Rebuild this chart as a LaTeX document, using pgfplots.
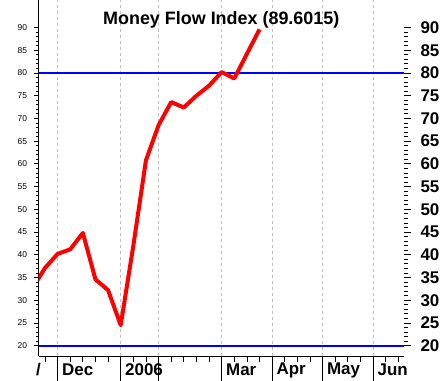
\documentclass[border=0pt]{standalone}
\usepackage{fontspec}
\setmainfont{Liberation Sans}
\usepackage{pgfplots}
\pgfplotsset{compat=1.18}
\definecolor{gridgray}{RGB}{190,190,190}
\definecolor{mfired}{RGB}{255,0,0}
\definecolor{mfiblue}{RGB}{0,0,255}
\pgfplotsset{
  base/.style={
    at={(38.5bp,25bp)}, anchor=south west,
    scale only axis, width=365.5bp, height=356bp,
    xmin=-0.515, xmax=28.45, ymin=17.73, ymax=96.06,
    axis line style={-, black, line width=0.8bp},
    tick align=outside,
    tick style={black, line width=0.8bp},
    /pgf/number format/assume math mode=true,
  }
}
\begin{document}
\begin{tikzpicture}
\useasboundingbox (0,0) rectangle (443bp,381bp);
% month ticks, gridlines and labels
\begin{axis}[base,
  hide y axis, axis x line*=bottom,
  xtick={1,6,9,14,18,22,26},
  xticklabels={Dec,2006,,Mar,Apr,May,Jun},
  major tick length=25bp,
  xmajorgrids,
  grid style={gridgray, dash pattern=on 3bp off 3bp, line width=0.8bp},
  xticklabel style={anchor=west, font=\bfseries\fontsize{17}{17}\selectfont, xshift=1bp, yshift=11bp},
]
\end{axis}
% weekly ticks
\begin{axis}[base,
  hide y axis, axis x line*=bottom,
  xtick={0,...,28}, xticklabels={},
  major tick length=6bp,
]
\end{axis}
% right axis
\begin{axis}[base,
  hide x axis, axis y line*=right,
  y axis line style={draw=none},
  ytick={20,25,...,90},
  minor y tick num=4,
  major tick length=7bp, minor tick length=3.5bp,
  yticklabel style={anchor=west, font=\bfseries\fontsize{17}{17}\selectfont, xshift=6bp},
]
\end{axis}
% left axis with data
\begin{axis}[base,
  hide x axis, axis y line*=left,
  ytick={20,25,...,90},
  minor y tick num=4,
  major tick length=4bp, minor tick length=2bp,
  yticklabel style={anchor=east, font=\fontsize{8.5}{8.5}\selectfont, xshift=-4bp},
  title={\bfseries Money Flow Index (89.6015)},
  title style={at={(0.5,1)}, anchor=north, yshift=-14bp, font=\fontsize{18}{18}\selectfont},
  clip=true,
]
\addplot[mfiblue, line width=2bp] coordinates {(-0.515,80) (28.45,80)};
\addplot[mfiblue, line width=2bp] coordinates {(-0.515,20) (28.45,20)};
\addplot[mfired, line width=4bp, line join=round] coordinates {
(-1,32.6) (0,37.1) (1,40.2) (2,41.2) (3,44.8) (4,34.6) (5,32.2) (6,24.5)
(7,42.0) (8,60.8) (9,68.5) (10,73.6) (11,72.4) (12,75.0) (13,77.2)
(14,80.2) (15,78.8) (16,84.2) (17,89.6015)
};
\end{axis}
\node[font=\bfseries\fontsize{17}{17}\selectfont, anchor=west, inner sep=0pt] at (36bp,11bp) {/};
\end{tikzpicture}
\end{document}
